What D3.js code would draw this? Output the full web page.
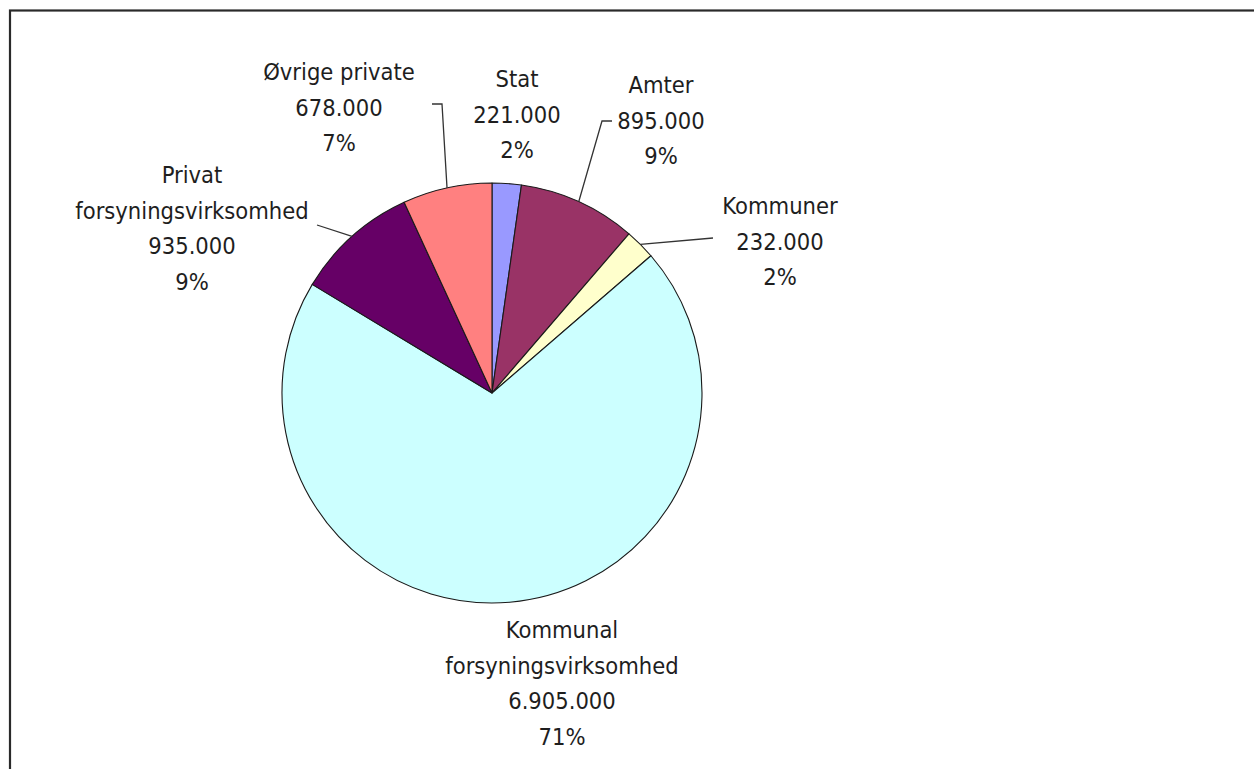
<!DOCTYPE html>
<html>
<head>
<meta charset="utf-8">
<script src="https://cdn.jsdelivr.net/npm/d3@7"></script>
<style>
  html, body { margin: 0; padding: 0; background: #fff; }
  svg { display: block; }
  text { font-family: "DejaVu Sans Condensed", "DejaVu Sans", sans-serif; font-stretch: condensed; fill: #1e1e1e; }
</style>
</head>
<body>
<svg id="chart" width="1254" height="769"></svg>
<script>
// ---- data ----
const categories = ["Stat", "Amter", "Kommuner", "Kommunal forsyningsvirksomhed", "Privat forsyningsvirksomhed", "Øvrige private"];
const labelLines = [["Stat"], ["Amter"], ["Kommuner"], ["Kommunal", "forsyningsvirksomhed"], ["Privat", "forsyningsvirksomhed"], ["Øvrige private"]];
const values = [221000, 895000, 232000, 6905000, 935000, 678000];
const percentLabels = ["2%", "9%", "2%", "71%", "9%", "7%"];
const colors = ["#9999FF", "#993366", "#FFFFCC", "#CCFFFF", "#660066", "#FF8080"];

// ---- layout ----
const W = 1254, H = 769;
const cx = 492, cy = 393, R = 210;
const fontSize = 23.5, lineH = 35.5;
const labelLayout = [
  { x: 517, y: 87 },
  { x: 661, y: 93, leader: [[612, 121], [602, 121]] },
  { x: 780, y: 214, leader: [[713, 238]] },
  { x: 562, y: 638 },
  { x: 192, y: 183, leader: [[317, 225]] },
  { x: 339, y: 80, leader: [[432, 104], [442, 104]] }
];

const svg = d3.select("#chart");
const loc = d3.formatLocale({ decimal: ",", thousands: ".", grouping: [3], currency: ["", ""] });
const fmt = loc.format(",d");

// frame
svg.append("rect")
  .attr("x", 10).attr("y", 10.5)
  .attr("width", W + 10).attr("height", H + 10)
  .attr("fill", "none").attr("stroke", "#2a2a2a").attr("stroke-width", 2.2);

const data = categories.map((c, i) => ({ c, v: values[i], i }));
const pie = d3.pie().sort(null).value(d => d.v).startAngle(0).endAngle(2 * Math.PI);
const arcs = pie(data);
const arc = d3.arc().innerRadius(0).outerRadius(R);
const edgeArc = d3.arc().innerRadius(R).outerRadius(R);

const g = svg.append("g").attr("transform", `translate(${cx},${cy})`);
g.selectAll("path.slice").data(arcs).join("path")
  .attr("class", "slice")
  .attr("d", arc)
  .attr("fill", d => colors[d.data.i])
  .attr("stroke", "#1a1a1a")
  .attr("stroke-width", 1.1)
  .attr("stroke-linejoin", "round");

// leader lines
arcs.forEach(d => {
  const L = labelLayout[d.data.i];
  if (!L.leader) return;
  const c = edgeArc.centroid(d);
  const pts = [[c[0] + cx, c[1] + cy]].concat(L.leader.slice().reverse());
  svg.append("polyline")
    .attr("points", pts.map(p => p.join(",")).join(" "))
    .attr("fill", "none").attr("stroke", "#333").attr("stroke-width", 1.3);
});

// labels
data.forEach((d, i) => {
  const L = labelLayout[i];
  const lines = labelLines[i].concat([fmt(values[i]), percentLabels[i]]);
  const t = svg.append("text")
    .attr("text-anchor", "middle")
    .attr("font-size", fontSize);
  lines.forEach((ln, k) => {
    t.append("tspan").attr("x", L.x).attr("y", L.y + k * lineH).text(ln);
  });
});
</script>
</body>
</html>
